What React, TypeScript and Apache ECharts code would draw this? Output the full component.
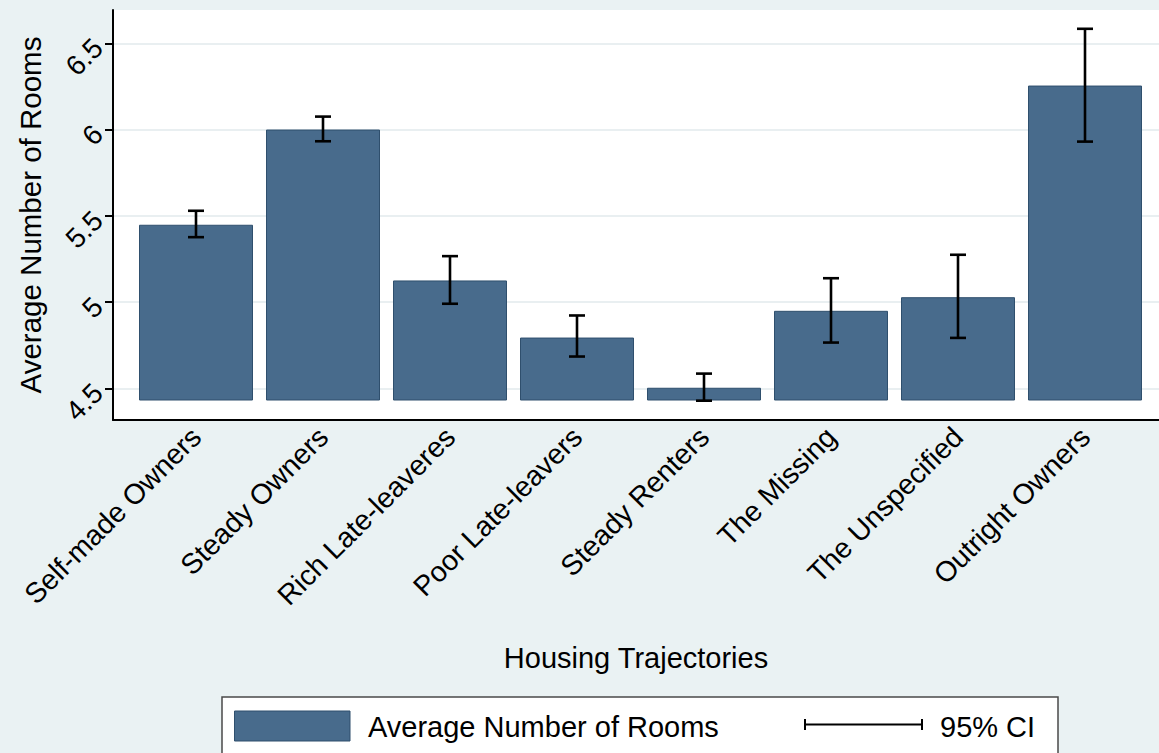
import React, { useEffect, useRef } from "react";
import * as echarts from "echarts";

// Housing trajectory groups
const categories = [
  "Self-made Owners",
  "Steady Owners",
  "Rich Late-leaveres",
  "Poor Late-leavers",
  "Steady Renters",
  "The Missing",
  "The Unspecified",
  "Outright Owners",
];

// Mean number of rooms per group
const meanRooms = [5.448, 6.0, 5.125, 4.794, 4.503, 4.949, 5.028, 6.255];
// 95% confidence interval bounds
const ciLower = [5.376, 5.932, 4.99, 4.684, 4.428, 4.765, 4.792, 5.93];
const ciUpper = [5.529, 6.075, 5.266, 4.922, 4.585, 5.138, 5.274, 6.584];

// Y-axis ticks
const yTicks = [4.5, 5, 5.5, 6, 6.5];

const FONT = "'Liberation Sans', Arial, Helvetica, sans-serif";
const BAR_COLOR = "#486b8c";
const BAR_EDGE = "#2f4f6d";
const PAGE_BG = "#eaf2f3";

export default function App() {
  const ref = useRef<HTMLDivElement>(null);

  useEffect(() => {
    if (!ref.current) return;
    const chart = echarts.init(ref.current, null, { renderer: "svg" });

    const ciData = categories.map((_, i) => [i, ciLower[i], ciUpper[i]]);

    const option: any = {
      animation: false,
      backgroundColor: PAGE_BG,
      textStyle: { fontFamily: FONT, color: "#000" },
      grid: [
        // plot region: frame, y scale, gridlines
        {
          left: 113,
          top: 10,
          width: 1046,
          height: 410,
          show: true,
          backgroundColor: "#ffffff",
          borderWidth: 0,
          outerBoundsMode: "none",
        },
        // bar region: bars rise from the bar base
        {
          left: 132.5,
          top: 10,
          width: 1016,
          height: 390,
          outerBoundsMode: "none",
        },
      ],
      xAxis: [
        {
          gridIndex: 0,
          type: "value",
          min: 0,
          max: 1,
          axisLine: { show: true, onZero: false, lineStyle: { color: "#000", width: 2 } },
          axisTick: { show: false },
          axisLabel: { show: false },
          splitLine: { show: false },
          name: "Housing Trajectories",
          nameLocation: "middle",
          nameGap: 223,
          nameTextStyle: { fontSize: 29, fontFamily: FONT, color: "#000", verticalAlign: "top" },
        },
        {
          gridIndex: 1,
          type: "category",
          data: categories,
          axisLine: { show: false },
          axisTick: { show: false },
          axisLabel: {
            interval: 0,
            rotate: 45,
            margin: 32,
            fontSize: 28.5,
            fontFamily: FONT,
            color: "#000",
          },
          splitLine: { show: false },
        },
      ],
      yAxis: [
        {
          gridIndex: 0,
          type: "value",
          min: 4.316,
          max: 6.693,
          axisLine: { show: true, lineStyle: { color: "#000", width: 2 } },
          axisTick: {
            show: true,
            length: 8,
            customValues: yTicks,
            lineStyle: { color: "#000", width: 2 },
          },
          axisLabel: {
            customValues: yTicks,
            rotate: 45,
            margin: 15,
            fontSize: 28,
            fontFamily: FONT,
            color: "#000",
          },
          splitLine: { show: true, lineStyle: { color: "#e9eff1", width: 2 } },
          name: "Average Number of Rooms",
          nameLocation: "middle",
          nameGap: 68,
          nameTextStyle: { fontSize: 29.5, fontFamily: FONT, color: "#000" },
        },
        {
          gridIndex: 1,
          type: "value",
          min: 4.432,
          max: 6.693,
          show: false,
          splitLine: { show: false },
        },
      ],
      series: [
        {
          name: "Average Number of Rooms",
          type: "bar",
          xAxisIndex: 1,
          yAxisIndex: 1,
          data: meanRooms,
          barWidth: 114,
          itemStyle: { color: BAR_COLOR, borderColor: BAR_EDGE, borderWidth: 1 },
          z: 2,
        },
        {
          name: "95% CI",
          type: "custom",
          xAxisIndex: 1,
          yAxisIndex: 1,
          data: ciData,
          clip: false,
          z: 3,
          renderItem: (params: any, api: any) => {
            const idx = api.value(0);
            const top = api.coord([idx, api.value(2)]);
            const bot = api.coord([idx, api.value(1)]);
            const half = 8;
            const style = { stroke: "#000", lineWidth: 2.6 };
            return {
              type: "group",
              children: [
                { type: "line", shape: { x1: top[0], y1: top[1], x2: bot[0], y2: bot[1] }, style },
                { type: "line", shape: { x1: top[0] - half, y1: top[1], x2: top[0] + half, y2: top[1] }, style },
                { type: "line", shape: { x1: bot[0] - half, y1: bot[1], x2: bot[0] + half, y2: bot[1] }, style },
              ],
            };
          },
        },
      ],
      // legend box below the plot
      graphic: [
        {
          type: "rect",
          shape: { x: 222, y: 697, width: 836, height: 80 },
          style: { fill: "#ffffff", stroke: "#4a4a4a", lineWidth: 1.5 },
          z: 10,
        },
        {
          type: "rect",
          shape: { x: 234.5, y: 711, width: 115.5, height: 30 },
          style: { fill: BAR_COLOR, stroke: BAR_EDGE, lineWidth: 1 },
          z: 11,
        },
        {
          type: "text",
          x: 368,
          y: 727,
          style: {
            text: "Average Number of Rooms",
            fontSize: 29,
            fontFamily: FONT,
            fill: "#000",
            verticalAlign: "middle",
            align: "left",
          },
          z: 11,
        },
        {
          type: "line",
          shape: { x1: 804, y1: 724.5, x2: 923, y2: 724.5 },
          style: { stroke: "#000", lineWidth: 2 },
          z: 11,
        },
        {
          type: "line",
          shape: { x1: 805, y1: 719, x2: 805, y2: 730 },
          style: { stroke: "#000", lineWidth: 2 },
          z: 11,
        },
        {
          type: "line",
          shape: { x1: 922, y1: 719, x2: 922, y2: 730 },
          style: { stroke: "#000", lineWidth: 2 },
          z: 11,
        },
        {
          type: "text",
          x: 940,
          y: 727,
          style: {
            text: "95% CI",
            fontSize: 29,
            fontFamily: FONT,
            fill: "#000",
            verticalAlign: "middle",
            align: "left",
          },
          z: 11,
        },
      ],
    };

    chart.setOption(option);
    return () => chart.dispose();
  }, []);

  return (
    <div
      ref={ref}
      style={{ position: "fixed", left: 0, top: 0, width: 1159, height: 753 }}
    />
  );
}
